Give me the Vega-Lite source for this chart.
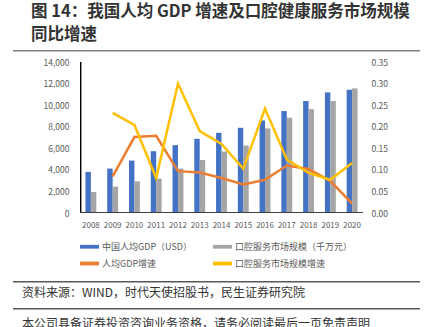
{
  "$schema": "https://vega.github.io/schema/vega-lite/v6.json",
  "padding": {"left": 13, "top": 3, "right": 0, "bottom": 0},
  "background": "white",
  "config": {
    "font": "Noto Sans CJK SC",
    "view": {"stroke": null},
    "axis": {"labelFont": "Noto Sans CJK SC", "titleFont": "Noto Sans CJK SC"}
  },
  "datasets": {
    "bars": [
      {"year": "2008", "series": "中国人均GDP（USD）", "value": 3810},
      {"year": "2009", "series": "中国人均GDP（USD）", "value": 4120},
      {"year": "2010", "series": "中国人均GDP（USD）", "value": 4860},
      {"year": "2011", "series": "中国人均GDP（USD）", "value": 5730},
      {"year": "2012", "series": "中国人均GDP（USD）", "value": 6290},
      {"year": "2013", "series": "中国人均GDP（USD）", "value": 6880},
      {"year": "2014", "series": "中国人均GDP（USD）", "value": 7430},
      {"year": "2015", "series": "中国人均GDP（USD）", "value": 7900},
      {"year": "2016", "series": "中国人均GDP（USD）", "value": 8580},
      {"year": "2017", "series": "中国人均GDP（USD）", "value": 9450},
      {"year": "2018", "series": "中国人均GDP（USD）", "value": 10380},
      {"year": "2019", "series": "中国人均GDP（USD）", "value": 11180},
      {"year": "2020", "series": "中国人均GDP（USD）", "value": 11430},
      {"year": "2008", "series": "口腔服务市场规模（千万元）", "value": 1950},
      {"year": "2009", "series": "口腔服务市场规模（千万元）", "value": 2450},
      {"year": "2010", "series": "口腔服务市场规模（千万元）", "value": 2940},
      {"year": "2011", "series": "口腔服务市场规模（千万元）", "value": 3190},
      {"year": "2012", "series": "口腔服务市场规模（千万元）", "value": 4120},
      {"year": "2013", "series": "口腔服务市场规模（千万元）", "value": 4920},
      {"year": "2014", "series": "口腔服务市场规模（千万元）", "value": 5700},
      {"year": "2015", "series": "口腔服务市场规模（千万元）", "value": 6260},
      {"year": "2016", "series": "口腔服务市场规模（千万元）", "value": 7840},
      {"year": "2017", "series": "口腔服务市场规模（千万元）", "value": 8830},
      {"year": "2018", "series": "口腔服务市场规模（千万元）", "value": 9630},
      {"year": "2019", "series": "口腔服务市场规模（千万元）", "value": 10380},
      {"year": "2020", "series": "口腔服务市场规模（千万元）", "value": 11550}
    ],
    "rates": [
      {"year": "2009", "series": "人均GDP增速", "rate": 0.085},
      {"year": "2010", "series": "人均GDP增速", "rate": 0.176},
      {"year": "2011", "series": "人均GDP增速", "rate": 0.179},
      {"year": "2012", "series": "人均GDP增速", "rate": 0.097},
      {"year": "2013", "series": "人均GDP增速", "rate": 0.094},
      {"year": "2014", "series": "人均GDP增速", "rate": 0.081},
      {"year": "2015", "series": "人均GDP增速", "rate": 0.066},
      {"year": "2016", "series": "人均GDP增速", "rate": 0.077},
      {"year": "2017", "series": "人均GDP增速", "rate": 0.110},
      {"year": "2018", "series": "人均GDP增速", "rate": 0.102},
      {"year": "2019", "series": "人均GDP增速", "rate": 0.074},
      {"year": "2020", "series": "人均GDP增速", "rate": 0.022},
      {"year": "2009", "series": "口腔服务市场规模增速", "rate": 0.232},
      {"year": "2010", "series": "口腔服务市场规模增速", "rate": 0.204},
      {"year": "2011", "series": "口腔服务市场规模增速", "rate": 0.081},
      {"year": "2012", "series": "口腔服务市场规模增速", "rate": 0.300},
      {"year": "2013", "series": "口腔服务市场规模增速", "rate": 0.190},
      {"year": "2014", "series": "口腔服务市场规模增速", "rate": 0.160},
      {"year": "2015", "series": "口腔服务市场规模增速", "rate": 0.103},
      {"year": "2016", "series": "口腔服务市场规模增速", "rate": 0.242},
      {"year": "2017", "series": "口腔服务市场规模增速", "rate": 0.124},
      {"year": "2018", "series": "口腔服务市场规模增速", "rate": 0.093},
      {"year": "2019", "series": "口腔服务市场规模增速", "rate": 0.077},
      {"year": "2020", "series": "口腔服务市场规模增速", "rate": 0.116}
    ],
    "span": [{"a": 0, "b": 1}],
    "caption": [{"k": 0, "t": "资料来源：WIND，时代天使招股书，民生证券研究院"}],
    "notice": [{"k": 0, "t": "本公司具备证券投资咨询业务资格，请务必阅读最后一页免责声明"}]
  },
  "vconcat": [
    {
      "title": {
        "text": ["图 14：我国人均 GDP 增速及口腔健康服务市场规模", "同比增速"],
        "anchor": "start",
        "fontSize": 16.5,
        "fontWeight": "bold",
        "lineHeight": 23,
        "color": "#333333",
        "dx": 18,
        "offset": 7
      },
      "width": 340,
      "height": 4,
      "data": {"name": "span"},
      "mark": {"type": "rect", "color": "#7f7f7f"},
      "encoding": {
        "x": {"field": "a", "type": "quantitative", "scale": {"domain": [0, 1], "range": [-67, 340]}, "axis": null},
        "x2": {"field": "b"},
        "y": {"datum": 1, "type": "quantitative", "scale": {"domain": [0, 1]}, "axis": null},
        "y2": {"datum": 0.62}
      }
    },
    {
      "width": 283,
      "height": 151,
      "layer": [
        {
          "data": {"name": "bars"},
          "mark": {"type": "bar"},
          "encoding": {
            "x": {
              "field": "year",
              "type": "ordinal",
              "scale": {"domain": ["2008", "2009", "2010", "2011", "2012", "2013", "2014", "2015", "2016", "2017", "2018", "2019", "2020"], "paddingInner": 0.5, "paddingOuter": 0.25},
              "axis": {"title": null, "labelAngle": 0, "labelFontSize": 8, "labelColor": "#595959", "labelPadding": 8, "ticks": false, "domain": false}
            },
            "xOffset": {
              "field": "series",
              "type": "nominal",
              "sort": ["中国人均GDP（USD）", "口腔服务市场规模（千万元）"],
              "scale": {"paddingInner": 0, "paddingOuter": 0}
            },
            "y": {
              "field": "value",
              "type": "quantitative",
              "scale": {"domain": [0, 14000], "nice": false},
              "axis": {"orient": "left", "title": null, "values": [0, 2000, 4000, 6000, 8000, 10000, 12000, 14000], "format": ",.0f", "grid": false, "ticks": false, "domain": false, "labelFontSize": 8.5, "labelColor": "#595959", "labelPadding": 11, "minExtent": 67, "maxExtent": 67}
            },
            "color": {
              "field": "series",
              "type": "nominal",
              "scale": {
                "domain": ["中国人均GDP（USD）", "口腔服务市场规模（千万元）", "人均GDP增速", "口腔服务市场规模增速"],
                "range": ["#4472C4", "#A5A5A5", "#ED7D31", "#FFC000"]
              },
              "legend": {
                "orient": "bottom",
                "offset": 8,
                "columns": 2,
                "direction": "horizontal",
                "title": null,
                "symbolType": "M-1,-0.2H1V0.2H-1Z",
                "symbolSize": 361,
                "symbolStrokeWidth": 0,
                "labelFontSize": 9,
                "labelColor": "#595959",
                "labelOffset": 3,
                "columnPadding": 20,
                "rowPadding": 2
              }
            }
          }
        },
        {
          "data": {"name": "rates"},
          "mark": {"type": "line", "strokeWidth": 2.5},
          "encoding": {
            "x": {
              "field": "year",
              "type": "ordinal",
              "scale": {"domain": ["2008", "2009", "2010", "2011", "2012", "2013", "2014", "2015", "2016", "2017", "2018", "2019", "2020"], "paddingInner": 0.5, "paddingOuter": 0.25},
              "axis": null
            },
            "y": {
              "field": "rate",
              "type": "quantitative",
              "scale": {"domain": [0, 0.35], "nice": false},
              "axis": {"orient": "right", "title": null, "values": [0, 0.05, 0.1, 0.15, 0.2, 0.25, 0.3, 0.35], "format": ".2f", "grid": false, "ticks": false, "domain": false, "labelFontSize": 8.5, "labelColor": "#595959", "labelPadding": 8}
            },
            "color": {"field": "series", "type": "nominal"}
          }
        },
        {
          "data": {"name": "span"},
          "mark": {"type": "rect", "color": "#000000"},
          "encoding": {
            "x": {"datum": 0, "type": "quantitative", "scale": {"domain": [0, 1]}, "axis": null},
            "x2": {"datum": 0.005},
            "y": {"datum": 0, "type": "quantitative", "scale": {"domain": [0, 1]}, "axis": null},
            "y2": {"datum": 1}
          }
        },
        {
          "data": {"name": "span"},
          "mark": {"type": "rect", "color": "#404040"},
          "encoding": {
            "x": {"datum": 0, "type": "quantitative", "scale": {"domain": [0, 1]}, "axis": null},
            "x2": {"datum": 1},
            "y": {"datum": 0, "type": "quantitative", "scale": {"domain": [0, 1]}, "axis": null},
            "y2": {"datum": 0.007}
          }
        }
      ],
      "resolve": {"scale": {"x": "independent", "y": "independent"}}
    },
    {
      "width": 340,
      "height": 9.5,
      "data": {"name": "span"},
      "mark": {"type": "rect", "color": "#595959"},
      "encoding": {
        "x": {"field": "a", "type": "quantitative", "scale": {"domain": [0, 1], "range": [-67, 340]}, "axis": null},
        "x2": {"field": "b"},
        "y": {"datum": 0, "type": "quantitative", "scale": {"domain": [0, 1]}, "axis": null},
        "y2": {"datum": 0.16}
      }
    },
    {
      "width": 340,
      "height": 16,
      "data": {"name": "caption"},
      "mark": {"type": "text", "align": "left", "baseline": "middle", "fontSize": 12, "color": "#333333", "dx": 9, "dy": -3},
      "encoding": {
        "text": {"field": "t"},
        "x": {"field": "k", "type": "quantitative", "scale": {"domain": [0, 1], "range": [-67, 340]}, "axis": null}
      }
    },
    {
      "width": 340,
      "height": 1.5,
      "data": {"name": "span"},
      "mark": {"type": "rect", "color": "#595959"},
      "encoding": {
        "x": {"field": "a", "type": "quantitative", "scale": {"domain": [0, 1], "range": [-67, 340]}, "axis": null},
        "x2": {"field": "b"},
        "y": {"datum": 0, "type": "quantitative", "scale": {"domain": [0, 1]}, "axis": null},
        "y2": {"datum": 1}
      }
    },
    {
      "width": 340,
      "height": 20,
      "data": {"name": "notice"},
      "mark": {"type": "text", "align": "left", "baseline": "middle", "fontSize": 12, "color": "#333333", "dx": 9},
      "encoding": {
        "text": {"field": "t"},
        "x": {"field": "k", "type": "quantitative", "scale": {"domain": [0, 1], "range": [-67, 340]}, "axis": null}
      }
    }
  ],
  "spacing": 4,
  "resolve": {"scale": {"color": "independent", "x": "independent", "y": "independent"}}
}
